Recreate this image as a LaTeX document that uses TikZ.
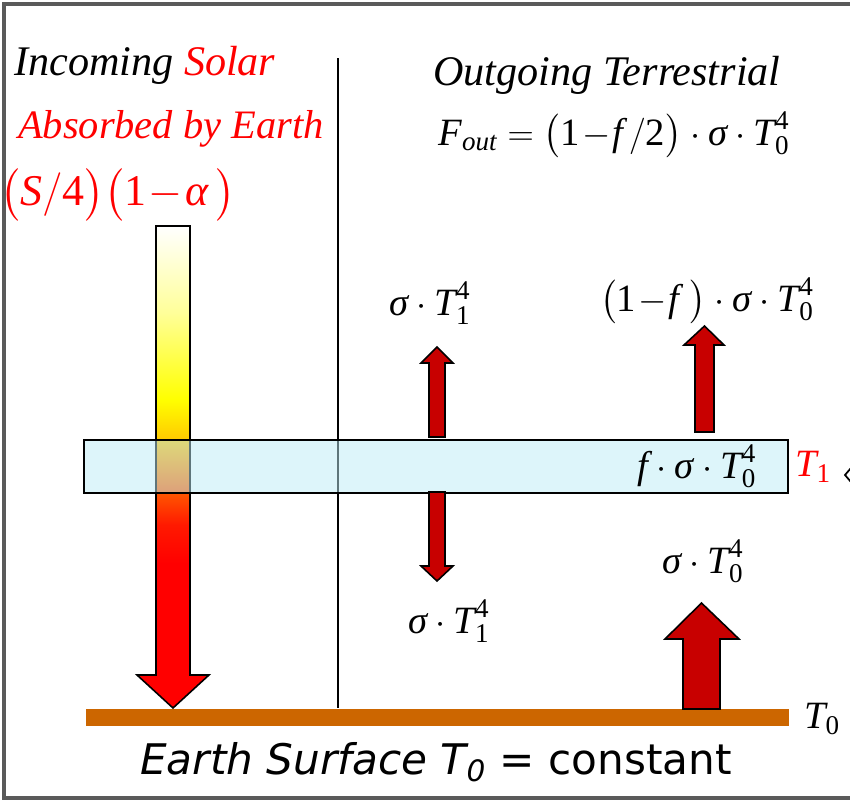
\documentclass[tikz,border=0pt]{standalone}
\usepackage{amsmath}
\usepackage{fontspec}
\setmainfont{Liberation Serif}
\newfontfamily\surfacefont{DejaVu Sans}
\usetikzlibrary{positioning,calc}

\definecolor{bandcyan}{HTML}{BCEBF5}
\definecolor{fluxred}{HTML}{C80000}
\definecolor{groundorange}{HTML}{CC6600}
\definecolor{framegrey}{HTML}{5A5A5A}

% shading of the solar arrow, white on top to red at the bottom
\pgfdeclareverticalshading{solarshade}{100bp}{%
  color(0bp)=(red); color(40bp)=(red); color(44bp)=(red!80!orange);
  color(47.5bp)=(orange!70!red); color(53bp)=(orange!40!yellow);
  color(57bp)=(yellow); color(66bp)=(yellow!40!white); color(75bp)=(white);
  color(100bp)=(white)}

\newcommand\tvar[1]{\text{\itshape #1}}
\newcommand\tnum[1]{\text{#1}}
\newcommand\lpar{\mathopen{\big(}}
\newcommand\rpar{\mathclose{\big)}}
\newcommand\tminus{\mathbin{\!-\!}}

\begin{document}
\begin{tikzpicture}[
    x=0.02cm, y=-0.02cm,
    title/.style={inner sep=0.5pt, font=\fontsize{23}{27}\selectfont\itshape},
    flux/.style={inner sep=0.5pt, font=\fontsize{22}{26}\selectfont},
    fluxarrow/.style={draw=black, fill=fluxred, line width=0.9pt, line join=miter}
]
\useasboundingbox (0,0) rectangle (850,806);

% frame
\draw[framegrey, line width=2.3pt] (852,4) -- (4,4) -- (4,798) -- (852,798);

% dividing line
\draw[line width=0.8pt] (338,58) -- (338,708);

% solar arrow
\shade[shading=solarshade] (156,226) -- (190,226) -- (190,675) -- (209,675) -- (173,708)
  -- (137,675) -- (156,675) -- cycle;
\draw[line width=0.9pt] (156,226) -- (190,226) -- (190,675) -- (209,675) -- (173,708)
  -- (137,675) -- (156,675) -- cycle;

% atmosphere layer
\draw[line width=0.9pt, fill=bandcyan, fill opacity=0.5] (84,440) rectangle (788,493);

% ground
\fill[groundorange] (86,709) rectangle (789,726);

% terrestrial arrows
\draw[fluxarrow] (429,437) -- (429,363) -- (421,363) -- (437,347) -- (453,363) -- (445,363) -- (445,437) -- cycle;
\draw[fluxarrow] (695,432) -- (695,345) -- (684,345) -- (704.5,326) -- (724,345) -- (714,345) -- (714,432) -- cycle;
\draw[fluxarrow] (429,492) -- (429,566) -- (421,566) -- (437,581) -- (453,566) -- (445,566) -- (445,492) -- cycle;
\draw[fluxarrow] (683,709) -- (683,639) -- (665,639) -- (701.5,603) -- (739,639) -- (720,639) -- (720,709) -- cycle;

% cut-off mark at the right edge
\draw[line width=1pt] (851,468) -- (845,475) -- (851,482);

% titles
\node[title, anchor=base west, font=\fontsize{24}{28}\selectfont\itshape] (incoming) at (13,75) {Incoming \textcolor{red}{Solar}};
\node[title, anchor=base west, text=red] (absorbed) at (17,138) {Absorbed by Earth};
\node[flux, text=red, font=\fontsize{25}{28}\selectfont] (solar) at (118,195)
  {$\lpar\tvar{S}/\tnum{4}\rpar\lpar\tnum{1}\tminus\tvar{α}\,\rpar$};
\node[title, anchor=base, font=\fontsize{24}{28}\selectfont\itshape] (outgoing) at (607,85) {Outgoing Terrestrial};
\node[flux] (fout) at (614,135)
  {$\tvar{F}_{\tvar{out}}=\lpar\tnum{1}\tminus\tvar{f}\,/\tnum{2}\rpar\cdot\tvar{σ}\cdot\tvar{T}_{\tnum{0}}^{\tnum{4}}$};

% flux labels
\node[flux] (upT1) at (430,303) {$\tvar{σ}\cdot\tvar{T}_{\tnum{1}}^{\tnum{4}}$};
\node[flux] (escape) at (707,301) {$\lpar\tnum{1}\tminus\tvar{f}\;\rpar\cdot\tvar{σ}\cdot\tvar{T}_{\tnum{0}}^{\tnum{4}}$};
\node[flux] (absorb) at (697,466) {$\tvar{f}\cdot\tvar{σ}\cdot\tvar{T}_{\tnum{0}}^{\tnum{4}}$};
\node[flux, text=red] (T1) at (813,467) {$\tvar{T}_{\tnum{1}}$};
\node[flux] (upT0) at (703,561) {$\tvar{σ}\cdot\tvar{T}_{\tnum{0}}^{\tnum{4}}$};
\node[flux] (downT1) at (449,621) {$\tvar{σ}\cdot\tvar{T}_{\tnum{1}}^{\tnum{4}}$};
\node[flux] (T0) at (822,719) {$\tvar{T}_{\tnum{0}}$};

% surface caption
\node[font=\surfacefont\fontsize{24}{28}\selectfont] (surface) at (436,762)
  {{\itshape Earth Surface T\textsubscript{0}} = constant};
\end{tikzpicture}
\end{document}
